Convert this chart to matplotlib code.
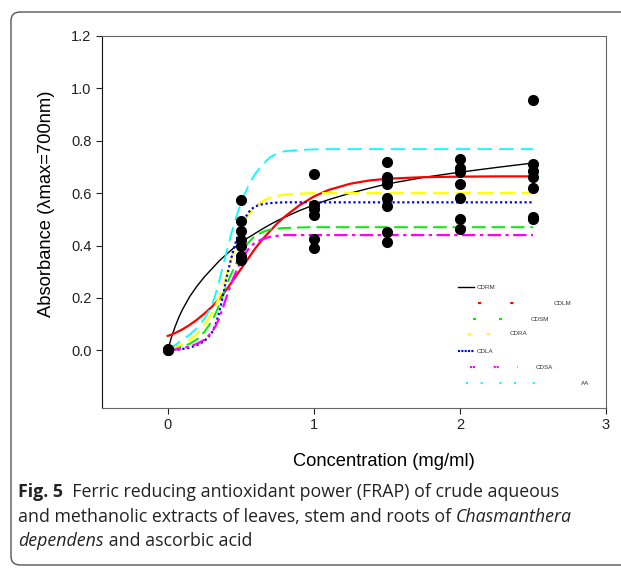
import numpy as np
import matplotlib
matplotlib.use('Agg')
import matplotlib.pyplot as plt
from matplotlib.patches import FancyBboxPatch

# measured points (x = concentration, mg/ml)
pt_x = [0, 0, 0,
        0.5, 0.5, 0.5, 0.5, 0.5, 0.5, 0.5,
        1, 1, 1, 1, 1, 1,
        1.5, 1.5, 1.5, 1.5, 1.5, 1.5, 1.5, 1.5,
        2, 2, 2, 2, 2, 2, 2,
        2.5, 2.5, 2.5, 2.5, 2.5, 2.5, 2.5]
pt_y = [0.0, 0.003, 0.006,
        0.572, 0.492, 0.455, 0.42, 0.40, 0.362, 0.343,
        0.674, 0.554, 0.54, 0.517, 0.424, 0.389,
        0.72, 0.66, 0.65, 0.635, 0.583, 0.55, 0.453, 0.412,
        0.732, 0.695, 0.68, 0.635, 0.58, 0.50, 0.464,
        0.955, 0.713, 0.684, 0.661, 0.62, 0.51, 0.50]

# fitted curves
cx = [0, 0.025, 0.05, 0.075, 0.1, 0.15, 0.2, 0.25, 0.3, 0.325, 0.35, 0.375,
      0.4, 0.425, 0.45, 0.475, 0.5, 0.525, 0.55, 0.575, 0.6, 0.65, 0.7, 0.75,
      0.8, 0.9, 1.0, 1.1, 1.25, 1.375, 1.5, 1.75, 2.0, 2.25, 2.5]
cdrm = [0, 0.05, 0.09, 0.125, 0.155, 0.205, 0.245, 0.28, 0.31, 0.325, 0.34, 0.353,
        0.366, 0.378, 0.39, 0.40, 0.41, 0.42, 0.43, 0.438, 0.447, 0.464, 0.48, 0.495,
        0.508, 0.533, 0.555, 0.575, 0.6, 0.618, 0.635, 0.66, 0.68, 0.698, 0.715]
cdlm = [0.055, 0.06, 0.066, 0.073, 0.08, 0.097, 0.117, 0.14, 0.165, 0.18, 0.195, 0.212,
        0.23, 0.25, 0.27, 0.29, 0.31, 0.33, 0.35, 0.37, 0.39, 0.425, 0.455, 0.485,
        0.51, 0.553, 0.587, 0.612, 0.636, 0.648, 0.655, 0.661, 0.663, 0.664, 0.664]
cdsm = [0.005, 0.006, 0.008, 0.011, 0.015, 0.025, 0.042, 0.07, 0.11, 0.138, 0.17, 0.207,
        0.245, 0.28, 0.31, 0.34, 0.367, 0.39, 0.41, 0.425, 0.437, 0.452, 0.461, 0.465,
        0.467, 0.469, 0.47, 0.47, 0.47, 0.47, 0.47, 0.47, 0.47, 0.47, 0.47]
cdra = [0.005, 0.008, 0.012, 0.018, 0.025, 0.04, 0.062, 0.095, 0.14, 0.168, 0.2, 0.24,
        0.285, 0.33, 0.375, 0.418, 0.458, 0.49, 0.515, 0.535, 0.55, 0.57, 0.583, 0.59,
        0.594, 0.598, 0.6, 0.6, 0.6, 0.6, 0.6, 0.6, 0.6, 0.6, 0.6]
cdla = [0, 0.001, 0.002, 0.003, 0.005, 0.01, 0.02, 0.035, 0.065, 0.095, 0.14, 0.2,
        0.27, 0.33, 0.385, 0.43, 0.47, 0.5, 0.525, 0.54, 0.55, 0.558, 0.562, 0.564,
        0.565, 0.565, 0.565, 0.565, 0.565, 0.565, 0.565, 0.565, 0.565, 0.565, 0.565]
cdsa = [0, 0.001, 0.003, 0.005, 0.008, 0.015, 0.025, 0.04, 0.068, 0.09, 0.12, 0.158,
        0.2, 0.24, 0.278, 0.31, 0.34, 0.365, 0.385, 0.4, 0.412, 0.425, 0.433, 0.437,
        0.44, 0.44, 0.44, 0.44, 0.44, 0.44, 0.44, 0.44, 0.44, 0.44, 0.44]
aa = [0.005, 0.012, 0.02, 0.03, 0.04, 0.06, 0.085, 0.12, 0.17, 0.21, 0.26, 0.315,
      0.37, 0.425, 0.475, 0.52, 0.56, 0.595, 0.625, 0.652, 0.675, 0.71, 0.737, 0.752,
      0.76, 0.765, 0.767, 0.768, 0.768, 0.768, 0.768, 0.768, 0.768, 0.768, 0.768]

labels = ['CDRM', 'CDLM', 'CDSM', 'CDRA', 'CDLA', 'CDSA', 'AA']
curves = [cdrm, cdlm, cdsm, cdra, cdla, cdsa, aa]
colors = ['black', '#ff0000', '#00ee00', '#ffff00', '#0000ff', '#ff00ff', '#00ffff']
styles = [dict(lw=1.0, ls='-'),
          dict(lw=1.6, ls='-'),
          dict(lw=1.4, dashes=(7, 3)),
          dict(lw=1.6, dashes=(7, 3)),
          dict(lw=1.6, dashes=(1, 1.2)),
          dict(lw=1.6, dashes=(6, 2, 1.5, 2)),
          dict(lw=1.3, dashes=(8, 4))]

plt.rcParams['font.family'] = ['Liberation Sans', 'DejaVu Sans']

fig = plt.figure(figsize=(6.21, 5.69), dpi=100)
ax = fig.add_axes([0.1643, 0.283, 0.8115, 0.6538])

for y, c, st in zip(curves, colors, styles):
    ax.plot(cx, y, color=c, solid_joinstyle='round', **st)
ax.plot(pt_x, pt_y, 'o', color='black', ms=7, zorder=5)

ax.set_xlim(-0.45, 3)
ax.set_ylim(-0.22, 1.2)
ax.set_xticks([0, 1, 2, 3])
ax.set_yticks([0.0, 0.2, 0.4, 0.6, 0.8, 1.0, 1.2])
ax.set_yticklabels(['0.0', '0.2', '0.4', '0.6', '0.8', '1.0', '1.2'])
ax.tick_params(direction='out', length=4, width=0.8, labelsize=10.5, colors='#222')
for s in ['top', 'right', 'bottom']:
    ax.spines[s].set_color('#666')
ax.spines['left'].set_color('#111')
ax.set_xlabel('Concentration (mg/ml)', fontsize=13.2)
ax.set_ylabel('Absorbance (λmax=700nm)', fontsize=13.2)
ax.xaxis.set_label_coords(0.56, -0.12)
ax.yaxis.set_label_coords(-0.094, 0.55)

# SigmaPlot-like legend, hand placed
leg = [(0.706, 0.738, 0.325, 0.744),
       (0.746, 0.846, 0.282, 0.897),
       (0.736, 0.816, 0.239, 0.851),
       (0.726, 0.786, 0.199, 0.808),
       (0.706, 0.738, 0.153, 0.744),
       (0.730, 0.826, 0.110, 0.861),
       (0.722, 0.882, 0.067, 0.950)]
leg_dash = [None, (1.5, 14), (1.5, 11), (1.5, 7.5), (1, 0.6), (1, 0.4, 1, 9), (1, 6, 1, 8)]
for (x0, x1, yy, tx), c, d, lab in zip(leg, colors, leg_dash, labels):
    kw = dict(color=c, lw=1.5 if d else 1.0, transform=ax.transAxes)
    if d:
        kw['dashes'] = d
    ax.plot([x0, x1], [yy, yy], **kw)
    ax.text(tx, yy, lab, transform=ax.transAxes, fontsize=4.5, color='#333',
            va='center', ha='left')

# frame around figure + caption
box = FancyBboxPatch((11 / 621, 4 / 569), 640 / 621, 553 / 569,
                     boxstyle='round,pad=0,rounding_size=0.015',
                     transform=fig.transFigure, fill=False, ec='#555', lw=1.0,
                     clip_on=False)
fig.patches.append(box)

cap_font = ['Open Sans', 'DejaVu Sans']
cap_size = 12.8
lines = [[('Fig. 5', 'bold', 'normal'),
          ('  Ferric reducing antioxidant power (FRAP) of crude aqueous', 'normal', 'normal')],
         [('and methanolic extracts of leaves, stem and roots of ', 'normal', 'normal'),
          ('Chasmanthera', 'normal', 'italic')],
         [('dependens', 'normal', 'italic'), (' and ascorbic acid', 'normal', 'normal')]]
line_y = [492, 517, 541]
fig.canvas.draw()
r = fig.canvas.get_renderer()
for parts, py in zip(lines, line_y):
    xpos = 18
    for txt, wt, sty in parts:
        t = fig.text(xpos / 621, 1 - py / 569, txt, fontsize=cap_size, family=cap_font,
                     weight=wt, style=sty, va='center', ha='left', color='#222')
        bb = t.get_window_extent(renderer=r)
        xpos += bb.width

fig.savefig('out.png', dpi=100)
